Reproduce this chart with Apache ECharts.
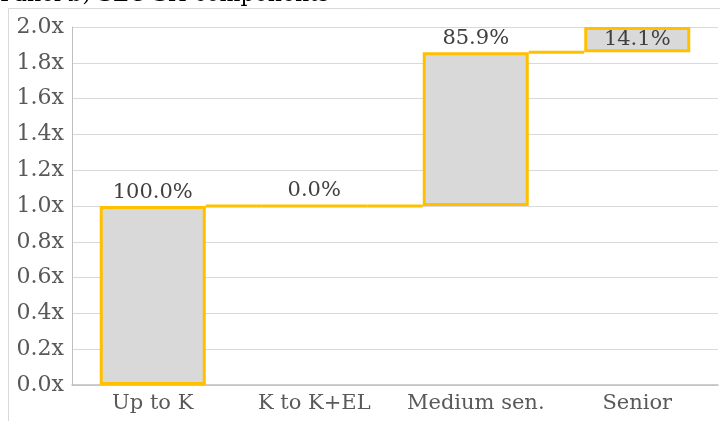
<!DOCTYPE html>
<html>
<head>
<meta charset="utf-8">
<script src="https://cdn.jsdelivr.net/npm/echarts@6/dist/echarts.min.js"></script>
<style>
    html, body {margin: 0; padding: 0; background: #fff;}
    #chart {width: 720px; height: 421px;}
</style>
</head>
<body>
<div id="chart"></div>
<script>
var categories = ['Up to K', 'K to K+EL', 'Medium sen.', 'Senior'];
// share of each component, in percent
var shares = [100.0, 0.0, 85.9, 14.1];
var yTicks = [0, 0.2, 0.4, 0.6, 0.8, 1.0, 1.2, 1.4, 1.6, 1.8, 2.0];

var FONT = '"DejaVu Serif", Georgia, serif';
var GOLD = '#FFC000';
var FILL = '#D9D9D9';
var BAR_W = 106;

// 水位: 前面各段的累计值
var steps = shares.map(function (v) { return v / 100; });
var base = [];
var running = 0;
steps.forEach(function (v) {
    base.push(running);
    running += v;
});
// 连接线: 每段结束后的累计值
var connectors = [];
for (var i = 0; i < steps.length - 1; i++) {
    connectors.push([i, base[i] + steps[i]]);
}

var chart = echarts.init(document.getElementById('chart'));
chart.setOption({
    animation: false,
    textStyle: {fontFamily: FONT},
    graphic: [
        {
            type: 'rect',
            shape: {x: 8.5, y: 8.5, width: 800, height: 500},
            style: {fill: 'none', stroke: '#D9D9D9', lineWidth: 1},
            z: 0
        },
        {
            type: 'text',
            left: 0,
            top: -15.5,
            style: {text: 'Panel b) SEC SH components', font: '22px ' + FONT, fill: '#000'},
            z: 1
        }
    ],
    grid: {left: 72, right: 2, top: 27, bottom: 36},
    xAxis: {
        type: 'category',
        data: categories,
        axisLine: {lineStyle: {color: '#BFBFBF', width: 1.5}},
        axisTick: {show: false},
        axisLabel: {color: '#595959', fontSize: 21, margin: 8, interval: 0, fontFamily: FONT}
    },
    yAxis: {
        type: 'value',
        min: yTicks[0],
        max: yTicks[yTicks.length - 1],
        interval: 0.2,
        axisLine: {show: true, lineStyle: {color: '#BFBFBF', width: 1}},
        axisTick: {show: false},
        splitLine: {lineStyle: {color: '#D9D9D9', width: 1}},
        axisLabel: {
            color: '#595959',
            fontSize: 22,
            margin: 8,
            fontFamily: FONT,
            formatter: function (v) { return v.toFixed(1) + 'x'; }
        }
    },
    series: [
        {
            name: 'base',
            type: 'bar',
            stack: 'wf',
            barWidth: BAR_W,
            itemStyle: {color: 'transparent', borderColor: 'transparent'},
            emphasis: {disabled: true},
            data: base
        },
        {
            name: 'share',
            type: 'bar',
            stack: 'wf',
            barWidth: BAR_W,
            itemStyle: {color: FILL, borderColor: GOLD, borderWidth: 3},
            label: {
                show: true,
                position: 'top',
                distance: 3,
                color: '#404040',
                fontSize: 21,
                fontFamily: FONT,
                formatter: function (p) { return shares[p.dataIndex].toFixed(1) + '%'; }
            },
            data: steps.map(function (v, idx) {
                if (idx === steps.length - 1) {
                    return {value: v, label: {position: 'inside'}};
                }
                return v;
            }),
            z: 3
        },
        {
            name: 'connector',
            type: 'custom',
            data: connectors,
            z: 2,
            renderItem: function (params, api) {
                var p1 = api.coord([api.value(0), api.value(1)]);
                var p2 = api.coord([api.value(0) + 1, api.value(1)]);
                var half = BAR_W / 2;
                return {
                    type: 'line',
                    shape: {x1: p1[0] + half, y1: p1[1], x2: p2[0] - half, y2: p2[1]},
                    style: {stroke: GOLD, lineWidth: 3}
                };
            }
        }
    ]
});
</script>
</body>
</html>
